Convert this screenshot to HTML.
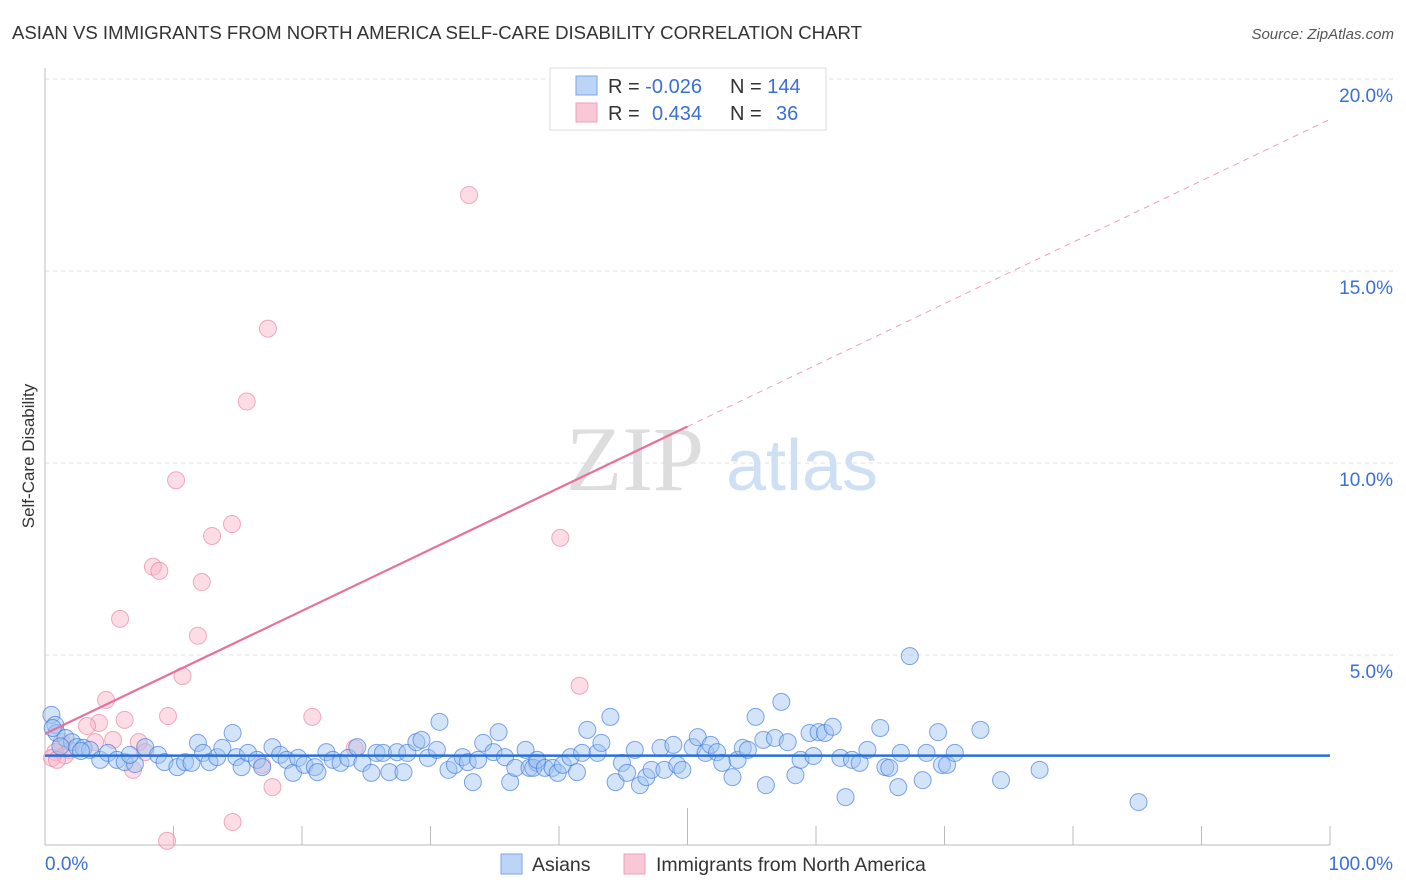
<!DOCTYPE html>
<html><head><meta charset="utf-8"><style>
body{margin:0;background:#fff;font-family:"Liberation Sans",sans-serif;}
svg{display:block}
</style></head><body>
<svg id="chart" width="1406" height="892" xmlns="http://www.w3.org/2000/svg">
<text x="12" y="39" font-size="18.6" fill="#333">ASIAN VS IMMIGRANTS FROM NORTH AMERICA SELF-CARE DISABILITY CORRELATION CHART</text>
<text x="1394" y="39" font-size="15" fill="#555" text-anchor="end" font-style="italic">Source: ZipAtlas.com</text>
<g id="grid"></g>
<g><text x="635" y="490" font-size="92" fill="#ddd" text-anchor="middle" font-family="Liberation Serif,serif">ZIP</text><text x="802" y="490" font-size="72" fill="#cfe0f5" text-anchor="middle">atlas</text></g>
<g id="axes"></g>
<g id="pink"></g>
<g id="blue"></g>
<g id="trends"></g>
<text transform="translate(34,456) rotate(-90)" font-size="17" fill="#333" text-anchor="middle">Self-Care Disability</text>
<g>
<rect x="550" y="68" width="276" height="62" fill="#fff" stroke="#ddd"/>
<rect x="576" y="76" width="21" height="19" fill="#bcd4f6" stroke="#7aa6e8"/>
<rect x="576" y="103" width="21" height="19" fill="#f9c8d6" stroke="#eea0b7"/>
<text x="608" y="93" font-size="20" fill="#333">R = <tspan fill="#3a6fd8">-0.026</tspan></text>
<text x="730" y="93" font-size="20" fill="#333">N = <tspan fill="#3a6fd8">144</tspan></text>
<text x="608" y="120" font-size="20" fill="#333">R = <tspan fill="#3a6fd8" x="652">0.434</tspan></text>
<text x="730" y="120" font-size="20" fill="#333">N = <tspan fill="#3a6fd8" x="776">36</tspan></text>
</g>
<g>
<rect x="501" y="854" width="21" height="20" fill="#bcd4f6" stroke="#7aa6e8"/>
<text x="532" y="871" font-size="19.5" fill="#333">Asians</text>
<rect x="624" y="854" width="21" height="20" fill="#f9c8d6" stroke="#eea0b7"/>
<text x="656" y="871" font-size="19.5" fill="#333">Immigrants from North America</text>
</g>
</svg>
<script>
const yTicks=[5,10,15,20];
const yTickLabels=["5.0%","10.0%","15.0%","20.0%"];
const xTicks=[10,20,30,40,50,60,70,80,90,100];
const blueX=[0.5,0.8,0.9,1.6,2.1,2.5,3.0,3.5,4.3,4.9,5.6,6.2,7.0,7.8,8.8,9.3,10.3,10.9,11.4,11.9,12.3,12.8,13.4,13.8,14.6,14.9,15.3,15.8,16.5,16.9,17.7,18.3,18.8,19.3,19.7,20.2,21.0,21.2,21.9,22.4,23.0,23.6,24.3,24.7,25.4,25.8,26.3,26.8,27.4,27.9,28.2,28.9,29.3,29.8,30.5,30.7,31.4,31.9,32.5,32.9,33.3,33.7,34.1,34.9,35.3,35.8,36.2,36.6,37.4,37.7,38.3,38.0,38.3,38.9,39.5,39.9,40.3,40.9,41.4,41.8,42.2,43.0,43.3,44.0,44.4,44.9,45.3,45.9,46.3,46.8,47.2,47.9,48.2,48.9,49.2,49.6,50.4,50.8,51.4,51.8,52.3,52.7,53.5,53.9,54.3,54.7,55.3,55.9,56.1,56.8,57.3,57.8,58.4,58.8,59.5,59.8,60.2,60.7,61.3,61.9,62.3,62.8,63.4,64.0,65.0,65.4,65.7,66.4,66.6,68.3,68.6,69.5,69.8,70.2,70.8,72.8,74.4,67.3,77.4,85.1,0.6,1.2,2.8,6.6];
const blueY=[3.44,3.18,2.97,2.84,2.73,2.60,2.58,2.53,2.27,2.45,2.27,2.21,2.16,2.60,2.40,2.21,2.08,2.21,2.19,2.71,2.45,2.21,2.34,2.58,2.97,2.34,2.08,2.45,2.27,2.08,2.60,2.40,2.27,1.93,2.32,2.14,2.08,1.95,2.47,2.27,2.19,2.32,2.60,2.19,1.93,2.45,2.45,1.95,2.47,1.95,2.45,2.73,2.79,2.32,2.53,3.26,2.01,2.14,2.34,2.21,1.69,2.27,2.71,2.47,2.99,2.34,1.69,2.06,2.53,2.06,2.19,2.06,2.27,2.06,2.06,1.93,2.14,2.34,1.95,2.45,3.05,2.45,2.71,3.39,1.69,2.19,1.93,2.53,1.61,1.82,2.01,2.58,2.01,2.66,2.14,2.01,2.60,2.86,2.45,2.66,2.47,2.19,1.82,2.27,2.58,2.53,3.39,2.79,1.61,2.84,3.78,2.73,1.87,2.27,2.97,2.37,2.99,2.97,3.13,2.32,1.30,2.27,2.19,2.53,3.10,2.08,2.06,1.56,2.45,1.74,2.45,2.99,2.14,2.14,2.45,3.05,1.74,4.97,2.01,1.17,3.10,2.62,2.50,2.40];
const pinkX=[33.0,17.35,15.7,10.2,14.55,13.0,40.1,8.4,8.9,12.2,5.84,11.9,10.7,41.6,4.75,9.57,20.8,6.2,4.2,3.27,5.3,7.3,3.9,1.3,1.95,0.8,7.8,24.1,1.56,0.55,0.93,16.9,6.85,17.7,14.6,9.5];
const pinkY=[16.98,13.5,11.6,9.55,8.41,8.1,8.05,7.3,7.19,6.9,5.94,5.5,4.45,4.2,3.83,3.41,3.39,3.31,3.23,3.15,2.79,2.73,2.73,2.73,2.52,2.47,2.47,2.57,2.39,2.32,2.27,2.14,2.01,1.56,0.65,0.16];
const blueTrendX=[0,100], blueTrendY=[2.38,2.38];
const pinkTrendX=[0,50,100], pinkTrendY=[2.95,10.95,18.95];

const NS="http://www.w3.org/2000/svg";
const X0=45,X1=1330,Y0=847,PPY=38.4;
function sx(v){return X0+(X1-X0)*v/100;}
function sy(v){return Y0-PPY*v;}
function mk(tag,attrs,parent){const e=document.createElementNS(NS,tag);for(const k in attrs)e.setAttribute(k,attrs[k]);parent.appendChild(e);return e;}
const grid=document.getElementById('grid'),axes=document.getElementById('axes');
yTicks.forEach((t,i)=>{
  const l=mk('line',{x1:X0,x2:1394,y1:sy(t),y2:sy(t),stroke:'#e2e2e2','stroke-dasharray':'4,4'},grid);
  
  
  const tx=mk('text',{x:1393,y:sy(t)+23,'font-size':19,fill:'#3a6fd8','text-anchor':'end'},axes);
  tx.textContent=yTickLabels[i];
  
  
});
const ax=mk('line',{x1:X0,x2:X1,y1:845,y2:845,stroke:'#bbb'},axes);


const ay=mk('line',{x1:X0,x2:X0,y1:68,y2:845,stroke:'#bbb'},axes);


xTicks.forEach(t=>{
  const l=mk('line',{x1:sx(t),x2:sx(t),y1:t===50?808:826,y2:845,stroke:'#bbb'},axes);
  
  
});
[[0,'0.0%','start',45],[100,'100.0%','end',1393]].forEach(d=>{
  const tx=mk('text',{x:d[3],y:870,'font-size':19,fill:'#3a6fd8','text-anchor':d[2]},axes);
  tx.textContent=d[1];
  
  
});
const pg=document.getElementById('pink');
pinkX.forEach((x,i)=>{
  const c=mk('circle',{cx:sx(x),cy:sy(pinkY[i]),r:8.5,fill:'rgba(248,180,200,0.45)',stroke:'rgba(230,120,155,0.6)','stroke-width':1},pg);
  
  
});
const bg=document.getElementById('blue');
blueX.forEach((x,i)=>{
  const c=mk('circle',{cx:sx(x),cy:sy(blueY[i]),r:8.5,fill:'rgba(160,195,240,0.45)',stroke:'rgba(60,120,220,0.65)','stroke-width':1},bg);
  
  
});
const tg=document.getElementById('trends');
const p1=mk('line',{x1:sx(pinkTrendX[0]),y1:sy(pinkTrendY[0]),x2:sx(pinkTrendX[1]),y2:sy(pinkTrendY[1]),stroke:'#e8709a','stroke-width':2.2},tg);


const p2=mk('line',{x1:sx(pinkTrendX[1]),y1:sy(pinkTrendY[1]),x2:sx(pinkTrendX[2]),y2:sy(pinkTrendY[2]),stroke:'#eaa0b8','stroke-width':1,'stroke-dasharray':'6,5'},tg);


const b1=mk('line',{x1:sx(blueTrendX[0]),y1:sy(blueTrendY[0]),x2:sx(blueTrendX[1]),y2:sy(blueTrendY[1]),stroke:'#2a6fd6','stroke-width':2.5},tg);


</script>
</body></html>
